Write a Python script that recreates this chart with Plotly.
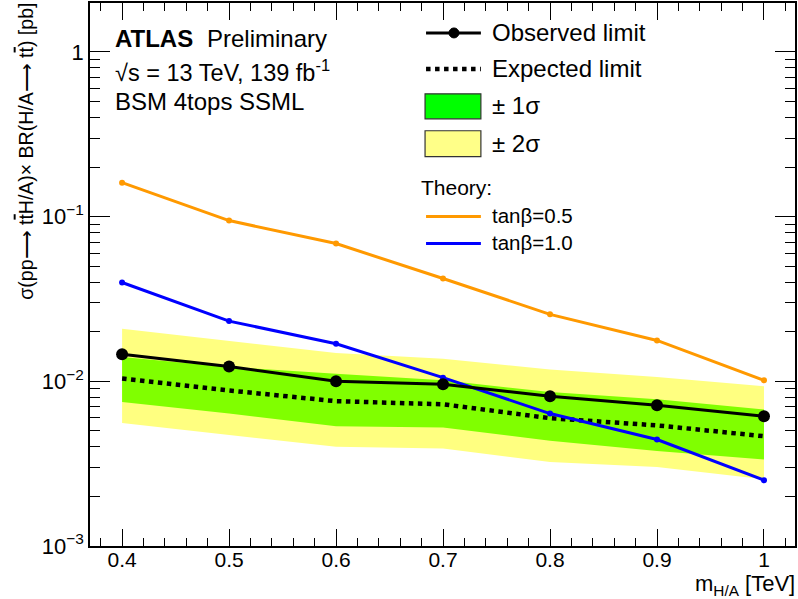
import plotly.graph_objects as go

# ---------------- data ----------------
mass = [0.4, 0.5, 0.6, 0.7, 0.8, 0.9, 1.0]
observed = [0.0146, 0.0123, 0.0100, 0.00959, 0.00811, 0.00716, 0.00614]
expected = [0.0104, 0.0088, 0.00757, 0.00726, 0.00597, 0.0054, 0.00464]
band1_up = [0.01403, 0.01221, 0.01113, 0.01014, 0.00861, 0.00778, 0.00674]
band1_dn = [0.00749, 0.00637, 0.00534, 0.00524, 0.00435, 0.00377, 0.00335]
band2_up = [0.02086, 0.01755, 0.01484, 0.01373, 0.01178, 0.01062, 0.00933]
band2_dn = [0.00559, 0.00471, 0.00400, 0.00391, 0.00324, 0.00302, 0.00254]
theory_tb05 = [0.1607, 0.0946, 0.0686, 0.0421, 0.0255, 0.0177, 0.01014]
theory_tb10 = [0.0398, 0.0232, 0.0169, 0.01052, 0.00637, 0.00443, 0.00251]

ytick_vals = [1e-3, 1e-2, 1e-1, 1]
ytick_text = ["10<sup>−3</sup>", "10<sup>−2</sup>", "10<sup>−1</sup>", "1"]
xtick_vals = [0.4, 0.5, 0.6, 0.7, 0.8, 0.9, 1.0]
xtick_text = ["0.4", "0.5", "0.6", "0.7", "0.8", "0.9", "1"]

FONT = "Liberation Sans, Arial, Helvetica, sans-serif"
W, H = 798, 599
ML, MR, MT, MB = 90, 1, 2, 53
PW, PH = W - ML - MR, H - MT - MB


def px(x):
    return (x - ML) / PW


def py(y):
    return (H - MB - y) / PH


fig = go.Figure()

# bands
fig.add_trace(go.Scatter(x=mass + mass[::-1], y=band2_up + band2_dn[::-1], fill="toself",
                         fillcolor="#FFFF80", line=dict(width=0), mode="lines",
                         hoverinfo="skip", showlegend=False))
fig.add_trace(go.Scatter(x=mass + mass[::-1], y=band1_up + band1_dn[::-1], fill="toself",
                         fillcolor="#80FF00", line=dict(width=0), mode="lines",
                         hoverinfo="skip", showlegend=False))
# expected
fig.add_trace(go.Scatter(x=mass, y=expected, mode="lines",
                         line=dict(color="black", width=4.5, dash="4.5px,4.5px"), showlegend=False))
# theory
fig.add_trace(go.Scatter(x=mass, y=theory_tb05, mode="lines+markers",
                         line=dict(color="#FF9900", width=3), marker=dict(size=6, color="#FF9900"),
                         showlegend=False))
fig.add_trace(go.Scatter(x=mass, y=theory_tb10, mode="lines+markers",
                         line=dict(color="#0000FF", width=3), marker=dict(size=6, color="#0000FF"),
                         showlegend=False))
# observed
fig.add_trace(go.Scatter(x=mass, y=observed, mode="lines+markers",
                         line=dict(color="black", width=3), marker=dict(size=12, color="black"),
                         showlegend=False))

minor_y = [m * 10 ** e for e in (-3, -2, -1, 0) for m in range(2, 10)]

fig.update_xaxes(range=[0.37, 1.029], tickvals=xtick_vals, ticktext=xtick_text,
                 ticks="inside", ticklen=17, tickwidth=1.2, tickcolor="black",
                 showline=True, linecolor="black", linewidth=1.5, mirror="allticks",
                 showgrid=False, zeroline=False,
                 ticklabelposition="outside", ticklabelstandoff=-6,
                 tickfont=dict(family=FONT, size=21, color="black"),
                 minor=dict(dtick=0.02, tick0=0.4, ticks="inside", ticklen=8,
                            tickwidth=1.2, tickcolor="black", showgrid=False))
fig.update_yaxes(type="log", range=[-3, 0.297], tickvals=ytick_vals, ticktext=ytick_text,
                 ticks="inside", ticklen=20, tickwidth=1.2, tickcolor="black",
                 showline=True, linecolor="black", linewidth=1.5, mirror="allticks",
                 showgrid=False, zeroline=False,
                 tickfont=dict(family=FONT, size=22, color="black"),
                 minor=dict(tickvals=minor_y, ticks="inside", ticklen=10,
                            tickwidth=1.2, tickcolor="black", showgrid=False))

ann = []
shapes = []


def text(x, y, s, size=24, anchor="left", bold=False):
    if bold:
        s = "<b>" + s + "</b>"
    ann.append(dict(x=px(x), y=py(y), xref="paper", yref="paper", text=s, showarrow=False,
                    xanchor=anchor, yanchor="middle", borderpad=0,
                    font=dict(family=FONT, size=size, color="black")))


# ATLAS label
text(114, 38, "ATLAS", 24, bold=True)
text(206, 38, "Preliminary", 24)
text(114, 70, "√s = 13 TeV, 139 fb<sup>-1</sup>", 23.5)
text(114, 101, "BSM 4tops SSML", 24)

# legend
text(492, 32, "Observed limit", 24)
shapes.append(dict(type="line", xref="paper", yref="paper", x0=px(427), x1=px(482), y0=py(32), y1=py(32),
                   line=dict(color="black", width=3)))
shapes.append(dict(type="circle", xref="paper", yref="paper", x0=px(450), x1=px(460), y0=py(37), y1=py(27),
                   fillcolor="black", line=dict(color="black", width=1)))
text(492, 68, "Expected limit", 24)
shapes.append(dict(type="line", xref="paper", yref="paper", x0=px(427), x1=px(482), y0=py(68), y1=py(68),
                   line=dict(color="black", width=4.5, dash="4.5px,4.5px")))
shapes.append(dict(type="rect", xref="paper", yref="paper", x0=px(426), x1=px(482), y0=py(118), y1=py(93),
                   fillcolor="#00FF00", line=dict(color="#333333", width=1.2)))
text(492, 105, "± 1σ", 24)
shapes.append(dict(type="rect", xref="paper", yref="paper", x0=px(426), x1=px(482), y0=py(156), y1=py(130),
                   fillcolor="#FFFF88", line=dict(color="#333333", width=1.2)))
text(492, 143, "± 2σ", 24)
text(421, 187, "Theory:", 21)
shapes.append(dict(type="line", xref="paper", yref="paper", x0=px(427), x1=px(482), y0=py(216), y1=py(216),
                   line=dict(color="#FF9900", width=3)))
text(492, 215, "tanβ=0.5", 20.5)
shapes.append(dict(type="line", xref="paper", yref="paper", x0=px(427), x1=px(482), y0=py(243), y1=py(243),
                   line=dict(color="#0000FF", width=3)))
text(492, 242, "tanβ=1.0", 20.5)

# axis titles
ann.append(dict(x=px(798), y=py(585), xref="paper", yref="paper",
                text="m<sub>H/A</sub> [TeV]", showarrow=False, xanchor="right", yanchor="middle",
                borderpad=0, font=dict(family=FONT, size=22, color="black")))
tbar = '<span style="text-decoration:overline">t</span>'
ann.append(dict(x=px(25), y=py(1), xref="paper", yref="paper",
                text="σ(pp⟶ t" + tbar + "H/A)× BR(H/A⟶ t" + tbar + ") [pb]",
                textangle=-90, showarrow=False,
                xanchor="center", yanchor="top", borderpad=0,
                font=dict(family=FONT, size=19.5, color="black")))

fig.update_layout(width=W, height=H, margin=dict(l=ML, r=MR, t=MT, b=MB),
                  paper_bgcolor="white", plot_bgcolor="white",
                  annotations=ann, shapes=shapes, showlegend=False)

fig.write_html("out.html")
